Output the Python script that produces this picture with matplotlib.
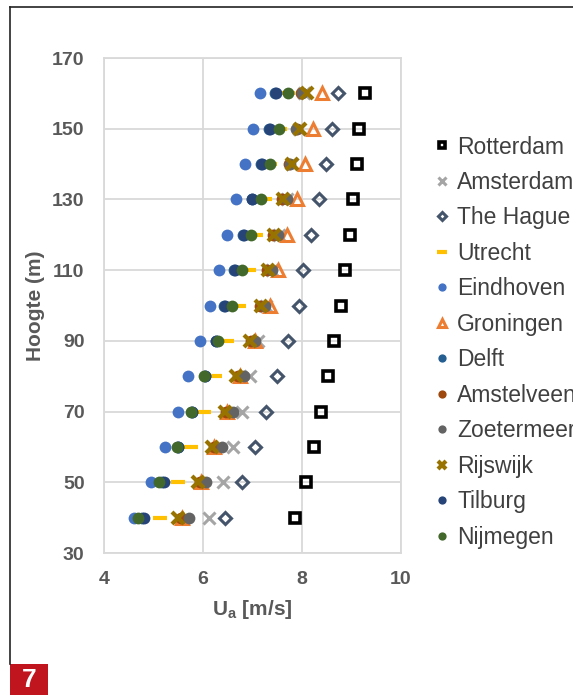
import matplotlib
matplotlib.use("Agg")
import matplotlib.pyplot as plt
from matplotlib.lines import Line2D
from matplotlib.patches import Rectangle

plt.rcParams['font.family'] = ['Liberation Sans', 'DejaVu Sans']

heights = [40, 50, 60, 70, 80, 90, 100, 110, 120, 130, 140, 150, 160]

rotterdam = [7.85, 8.08, 8.25, 8.38, 8.52, 8.65, 8.78, 8.86, 8.96, 9.04, 9.12, 9.16, 9.27]
amsterdam = [6.13, 6.40, 6.60, 6.78, 6.95, 7.12, 7.27, 7.40, 7.53, 7.70, 7.80, 7.93, 8.05]
the_hague = [6.44, 6.79, 7.06, 7.27, 7.49, 7.72, 7.93, 8.03, 8.18, 8.35, 8.48, 8.60, 8.73]
utrecht = [5.13, 5.49, 5.76, 6.03, 6.24, 6.48, 6.73, 6.92, 7.08, 7.25, 7.36, 7.55, 7.72]
eindhoven = [4.60, 4.94, 5.23, 5.49, 5.70, 5.93, 6.15, 6.33, 6.48, 6.67, 6.85, 7.02, 7.15]
groningen = [5.58, 5.95, 6.22, 6.48, 6.75, 7.05, 7.35, 7.52, 7.69, 7.89, 8.06, 8.23, 8.40]
delft = [4.76, 5.18, 5.49, 5.77, 6.04, 6.26, 6.43, 6.63, 6.80, 6.98, 7.17, 7.33, 7.45]
amstelveen = [5.55, 5.93, 6.22, 6.47, 6.70, 6.96, 7.15, 7.30, 7.42, 7.60, 7.74, 7.90, 7.98]
zoetermeer = [5.72, 6.07, 6.38, 6.61, 6.83, 7.06, 7.25, 7.39, 7.52, 7.69, 7.76, 7.88, 8.01]
rijswijk = [5.50, 5.89, 6.18, 6.44, 6.67, 6.94, 7.18, 7.32, 7.43, 7.62, 7.79, 7.96, 8.10]
tilburg = [4.80, 5.22, 5.50, 5.78, 6.05, 6.27, 6.44, 6.65, 6.82, 7.00, 7.19, 7.35, 7.47]
nijmegen = [4.68, 5.12, 5.47, 5.76, 6.03, 6.31, 6.58, 6.78, 6.96, 7.17, 7.35, 7.54, 7.71]

series = [
    ("Rotterdam", rotterdam, dict(marker='s', ms=7, mfc='none', mec='black', mew=2.6)),
    ("Amsterdam", amsterdam, dict(marker='x', ms=8, mec='#A5A5A5', mew=2.2)),
    ("The Hague", the_hague, dict(marker='D', ms=6, mfc='none', mec='#44546A', mew=2.2)),
    ("Utrecht", utrecht, dict(marker='_', ms=10, mec='#FFC000', mew=3)),
    ("Eindhoven", eindhoven, dict(marker='o', ms=8.5, mfc='#4472C4', mec='#4472C4', mew=0)),
    ("Groningen", groningen, dict(marker='^', ms=8.5, mfc='none', mec='#ED7D31', mew=2.2)),
    ("Delft", delft, dict(marker='o', ms=8.5, mfc='#255E91', mec='#255E91', mew=0)),
    ("Amstelveen", amstelveen, dict(marker='o', ms=8.5, mfc='#9E480E', mec='#9E480E', mew=0)),
    ("Zoetermeer", zoetermeer, dict(marker='o', ms=8.5, mfc='#636363', mec='#636363', mew=0)),
    ("Rijswijk", rijswijk, dict(marker='x', ms=8, mec='#997300', mew=3)),
    ("Tilburg", tilburg, dict(marker='o', ms=8.5, mfc='#264478', mec='#264478', mew=0)),
    ("Nijmegen", nijmegen, dict(marker='o', ms=8.5, mfc='#43682B', mec='#43682B', mew=0)),
]

fig = plt.figure(figsize=(5.73, 6.95), dpi=100)
ax = fig.add_axes([0.1815, 0.2043, 0.5183, 0.7122])

for name, vals, style in series:
    ax.plot(vals, heights, linestyle='none', label=name, **style)

ax.set_xlim(4, 10)
ax.set_ylim(30, 170)
ax.set_xticks([4, 6, 8, 10])
ax.set_yticks(range(30, 171, 20))
ax.grid(True, color='#D9D9D9', linewidth=1.3)
ax.set_axisbelow(True)
for sp in ax.spines.values():
    sp.set_color('#D9D9D9')
    sp.set_linewidth(1.3)
ax.tick_params(length=0, labelsize=14, labelcolor='#595959')
ax.tick_params(axis='y', pad=14)
ax.tick_params(axis='x', pad=13)
for lab in ax.get_xticklabels() + ax.get_yticklabels():
    lab.set_fontweight('bold')

ax.set_xlabel(r'U$_\mathregular{a}$ [m/s]', fontsize=15, fontweight='bold',
              color='#595959', labelpad=7)
ax.set_ylabel('Hoogte (m)', fontsize=15, fontweight='bold', color='#595959',
              labelpad=5)

leg = ax.legend(loc='upper left', bbox_to_anchor=(1.085, 0.862), frameon=False,
                fontsize=16.5, markerscale=0.7, handlelength=0.55,
                handletextpad=0.4, labelspacing=0.545, borderaxespad=0)
for t in leg.get_texts():
    t.set_color('#404040')

# page frame and figure number badge
fig.add_artist(Line2D([10 / 573, 10 / 573], [1 - 7 / 695, 1 - 664 / 695],
                      transform=fig.transFigure, color='#222222', lw=1.2))
fig.add_artist(Line2D([10 / 573, 1.0], [1 - 7 / 695, 1 - 7 / 695],
                      transform=fig.transFigure, color='#222222', lw=1.2))
fig.add_artist(Rectangle((10 / 573, 0), 38 / 573, 31 / 695,
                         transform=fig.transFigure, color='#C0141F', lw=0))
fig.text(29 / 573, 15 / 695, '7', color='white', fontsize=19, fontweight='bold',
         ha='center', va='center')

fig.savefig('out.png', dpi=100)
